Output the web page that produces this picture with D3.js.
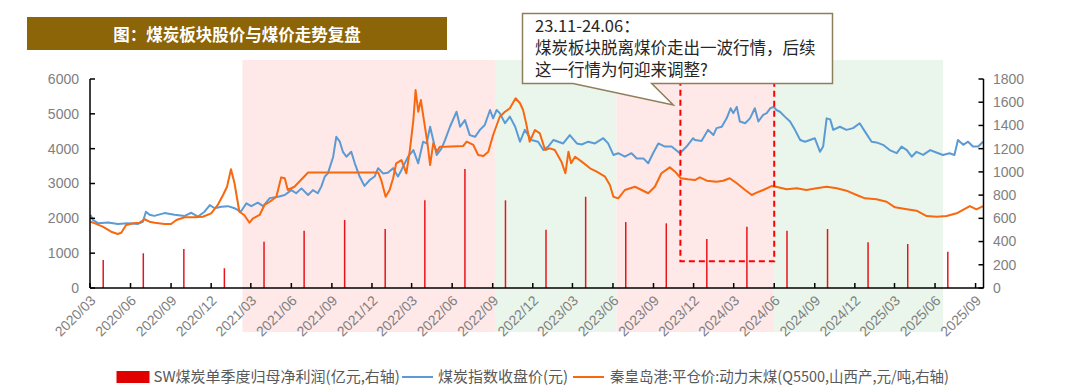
<!DOCTYPE html>
<html><head><meta charset="utf-8">
<script src="https://cdn.jsdelivr.net/npm/d3@7"></script>
<style>
body{margin:0;background:#fff;}
svg{display:block;font-family:"Liberation Sans",Arial,sans-serif;}
.cjk{font-family:"Noto Sans CJK SC","Noto Sans",sans-serif;}
</style>
</head><body><svg id="c" width="1080" height="390"></svg>
<script>
// ---------- DATA ----------
const titleText = "图：煤炭板块股价与煤价走势复盘";
const noteLines = ["23.11-24.06：", "煤炭板块脱离煤价走出一波行情，后续", "这一行情为何迎来调整?"];
const legendLabels = ["SW煤炭单季度归母净利润(亿元,右轴)", "煤炭指数收盘价(元)", "秦皇岛港:平仓价:动力末煤(Q5500,山西产,元/吨,右轴)"];

const xTickLabels = ["2020/03","2020/06","2020/09","2020/12","2021/03","2021/06","2021/09","2021/12","2022/03","2022/06","2022/09","2022/12","2023/03","2023/06","2023/09","2023/12","2024/03","2024/06","2024/09","2024/12","2025/03","2025/06","2025/09"];
const leftTicks = [0,1000,2000,3000,4000,5000,6000];
const rightTicks = [0,200,400,600,800,1000,1200,1400,1600,1800];

// shaded periods (pink = 上涨, green = 调整)
const bandStarts = ["2021-02-10","2022-09-06","2023-06-09","2024-06-01"];
const bandEnds   = ["2022-09-06","2023-06-09","2024-06-01","2025-06-19"];
const bandKinds  = ["up","down","up","down"];

// highlighted window 23.11-24.06
const focusStart = "2023-11-01", focusEnd = "2024-06-01", focusLow = 230;

// SW煤炭单季度归母净利润 (亿元, 右轴)
const profitDates = ["2020-03-31","2020-06-30","2020-09-30","2020-12-31","2021-03-31","2021-06-30","2021-09-30","2021-12-31","2022-03-31","2022-06-30","2022-09-30","2022-12-31","2023-03-31","2023-06-30","2023-09-30","2023-12-31","2024-03-31","2024-06-30","2024-09-30","2024-12-31","2025-03-31","2025-06-30"];
const profitValues = [241,299,336,170,399,494,586,508,755,1025,755,502,786,568,557,422,528,494,508,394,379,313];

// 煤炭指数收盘价 (元, 左轴)
const indexDates = ["2020-03-02","2020-03-08","2020-03-19","2020-04-11","2020-05-03","2020-05-26","2020-06-18","2020-06-29","2020-07-06","2020-07-14","2020-07-25","2020-08-17","2020-09-09","2020-10-02","2020-10-17","2020-11-01","2020-11-16","2020-11-28","2020-12-09","2020-12-24",
"2021-01-08","2021-01-23","2021-02-06","2021-02-19","2021-03-02","2021-03-17","2021-03-29","2021-04-13","2021-05-02","2021-05-17","2021-06-01","2021-06-12","2021-06-24","2021-07-09","2021-07-20","2021-07-31","2021-08-08","2021-08-16","2021-08-23","2021-09-04","2021-09-11","2021-09-19","2021-09-26","2021-10-04","2021-10-15","2021-10-23","2021-11-03","2021-11-14","2021-11-26","2021-12-07","2021-12-15","2021-12-26",
"2022-01-06","2022-01-18","2022-01-29","2022-02-06","2022-02-21","2022-03-05","2022-03-16","2022-03-27","2022-04-04","2022-04-12","2022-04-19","2022-04-27","2022-05-08","2022-05-16","2022-05-27","2022-06-11","2022-06-19","2022-06-30","2022-07-11","2022-07-23","2022-08-03","2022-08-14","2022-08-26","2022-09-02","2022-09-10","2022-09-17","2022-09-29","2022-10-10","2022-10-22","2022-11-02","2022-11-13","2022-11-28","2022-12-13","2022-12-25",
"2023-01-05","2023-01-17","2023-01-28","2023-02-08","2023-02-23","2023-03-11","2023-03-22","2023-04-06","2023-04-21","2023-05-10","2023-05-21","2023-06-02","2023-06-13","2023-06-28","2023-07-13","2023-07-25","2023-08-09","2023-08-20","2023-08-31","2023-09-12","2023-09-27","2023-10-12","2023-10-31","2023-11-15","2023-11-30","2023-12-04","2023-12-19",
"2024-01-03","2024-01-15","2024-01-22","2024-02-03","2024-02-14","2024-02-23","2024-02-29","2024-03-08","2024-03-15","2024-03-27","2024-04-07","2024-04-18","2024-04-26","2024-05-07","2024-05-15","2024-05-23","2024-05-31","2024-06-06","2024-06-14","2024-06-25","2024-07-07","2024-07-18","2024-07-30","2024-08-10","2024-08-21","2024-09-01","2024-09-13","2024-09-20","2024-09-28","2024-10-06","2024-10-13","2024-10-28","2024-11-12","2024-11-27","2024-12-12","2024-12-24",
"2025-01-08","2025-01-19","2025-02-03","2025-02-18","2025-03-06","2025-03-17","2025-03-29","2025-04-09","2025-04-20","2025-05-05","2025-05-21","2025-06-04","2025-06-19","2025-07-04","2025-07-15","2025-07-23","2025-08-04","2025-08-15","2025-08-26","2025-09-07","2025-09-18"];
const indexValues = [2100,1950,1860,1880,1840,1860,1840,1900,2190,2100,2070,2150,2100,2070,2160,2050,2190,2380,2290,2330,
2350,2290,2190,2430,2350,2450,2350,2580,2620,2670,2810,2720,2860,2670,2810,2720,2910,3200,3290,3770,4340,4200,3910,3770,3910,3580,3200,2930,3100,3200,3440,3290,
3310,3440,3200,3390,3770,3960,3580,4200,4150,4630,4250,3820,4010,4250,4630,5060,4630,4820,4390,4340,4540,4680,5110,4870,5110,5020,4730,4920,4630,4200,4540,4250,4200,3960,
4060,4250,4200,4150,4390,4150,4120,4200,4150,4300,4150,3820,3870,3770,3870,3720,3720,3580,3870,4150,4060,4060,3870,4060,4300,4250,4220,
4540,4390,4590,4630,4870,5160,5020,5200,4780,4730,4870,5160,4780,4970,5020,5160,5200,5110,5060,4920,4780,4540,4250,4200,4250,4300,3910,4060,4870,4840,4540,4630,4540,4590,4730,4490,
4200,4180,4110,3960,3870,4060,3960,3770,3910,3820,3960,3890,3820,3870,3820,4250,4110,4200,4060,4060,4200];

// 秦皇岛港:平仓价:动力末煤 (元/吨, 右轴)
const priceDates = ["2020-03-02","2020-03-12","2020-03-30","2020-04-18","2020-05-03","2020-05-11","2020-05-22","2020-06-07","2020-06-21","2020-07-03","2020-07-14","2020-07-26","2020-08-17","2020-09-01","2020-09-13","2020-10-02","2020-10-24","2020-11-12","2020-12-01","2020-12-16","2020-12-28",
"2021-01-06","2021-01-15","2021-01-23","2021-02-03","2021-02-14","2021-02-26","2021-03-06","2021-03-21","2021-04-01","2021-04-13","2021-04-28","2021-05-09","2021-05-17","2021-05-24","2021-06-08","2021-07-09","2021-12-15","2021-12-22",
"2022-01-01","2022-01-10","2022-01-18","2022-01-25","2022-02-06","2022-02-17","2022-02-25","2022-03-05","2022-03-10","2022-03-16","2022-03-22","2022-03-30","2022-04-06","2022-04-12","2022-04-19","2022-04-27","2022-05-04","2022-05-16","2022-06-26","2022-07-04","2022-07-19","2022-07-30","2022-08-11","2022-08-22","2022-09-02","2022-09-17","2022-09-29","2022-10-10","2022-10-23","2022-11-02","2022-11-09","2022-11-16","2022-11-24","2022-12-06","2022-12-17","2022-12-29",
"2023-01-09","2023-01-20","2023-02-04","2023-02-13","2023-02-20","2023-02-26","2023-03-07","2023-03-22","2023-04-10","2023-04-25","2023-05-14","2023-05-25","2023-06-02","2023-06-13","2023-06-28","2023-07-21","2023-08-05","2023-08-20","2023-09-04","2023-09-19","2023-10-08","2023-10-20","2023-11-02","2023-11-18","2023-12-04","2023-12-15","2023-12-31",
"2024-01-22","2024-02-06","2024-02-21","2024-03-08","2024-03-27","2024-04-11","2024-04-22","2024-05-07","2024-05-26","2024-06-10","2024-06-29","2024-07-22","2024-08-13","2024-09-05","2024-09-28","2024-10-21","2024-11-12","2024-12-05","2024-12-24",
"2025-01-19","2025-02-11","2025-03-02","2025-03-29","2025-04-20","2025-05-13","2025-06-05","2025-06-27","2025-07-20","2025-08-19","2025-09-03","2025-09-18"];
const priceValues = [571,557,528,485,465,476,543,557,562,592,571,562,551,551,586,609,609,614,643,715,801,
872,1022,902,657,629,562,600,629,715,743,786,953,945,844,872,995,995,930,
786,844,945,1074,1102,988,1188,1447,1705,1518,1619,1418,1246,1059,1246,1174,1217,1217,1223,1260,1232,1145,1137,1174,1318,1475,1518,1548,1634,1591,1533,1418,1260,1361,1332,1188,
1203,1188,1088,988,1174,1074,1131,1088,1031,1002,959,887,786,772,844,872,844,816,872,988,1039,1002,945,936,930,953,924,
915,924,945,902,844,801,821,844,878,867,850,859,844,859,872,859,838,801,772,
764,743,695,678,666,620,614,620,643,706,678,706];

// ---------- CHART ----------
const svg = d3.select("#c");
const parse = d3.timeParse("%Y-%m-%d");
const parseTick = d3.timeParse("%Y/%m");
const X0 = 90, X1 = 983.5, Y0 = 288, Y1 = 79;

const x = d3.scaleTime().domain([parse("2020-03-01"), parse("2025-09-19")]).range([X0, X1]);
const yL = d3.scaleLinear().domain([0, 6000]).range([Y0, Y1]);
const yR = d3.scaleLinear().domain([0, 1800]).range([Y0, Y1]);

// bands
const bandColor = {up:"#FFE8E8", down:"#EAF6EC"};
svg.append("g").selectAll("rect").data(bandStarts).join("rect")
  .attr("x", (d)=>x(parse(d)))
  .attr("width", (d,i)=>x(parse(bandEnds[i])) - x(parse(d)))
  .attr("y", 60).attr("height", 272)
  .attr("fill", (d,i)=>bandColor[bandKinds[i]]);

// title
svg.append("rect").attr("x",27).attr("y",17).attr("width",420).attr("height",33).attr("fill","#8B6508");
svg.append("text").attr("class","cjk").attr("x",237).attr("y",34).attr("text-anchor","middle")
  .attr("dominant-baseline","central").attr("fill","#fff").attr("font-size",16.5).attr("font-weight","bold").text(titleText);

// bars
svg.append("g").selectAll("line").data(profitDates).join("line")
  .attr("x1", d=>x(parse(d))).attr("x2", d=>x(parse(d)))
  .attr("y1", yR(0)).attr("y2", (d,i)=>yR(profitValues[i]))
  .attr("stroke","#E8141B").attr("stroke-width",1.5);

// lines
const idx = indexDates.map((d,i)=>({d:parse(d), v:indexValues[i]}));
const pr = priceDates.map((d,i)=>({d:parse(d), v:priceValues[i]}));
svg.append("path").datum(idx).attr("fill","none").attr("stroke","#5B9BD5").attr("stroke-width",2).attr("stroke-linejoin","round")
  .attr("d", d3.line().x(p=>x(p.d)).y(p=>yL(p.v)));
svg.append("path").datum(pr).attr("fill","none").attr("stroke","#F7680F").attr("stroke-width",2).attr("stroke-linejoin","round")
  .attr("d", d3.line().x(p=>x(p.d)).y(p=>yR(p.v)));

// axes
const ax = svg.append("g").attr("stroke","#000").attr("stroke-width",1.5);
ax.append("line").attr("x1",X0).attr("x2",X0).attr("y1",Y1).attr("y2",Y0);
ax.append("line").attr("x1",X1).attr("x2",X1).attr("y1",Y1).attr("y2",Y0);
ax.append("line").attr("x1",X0).attr("x2",X1).attr("y1",Y0).attr("y2",Y0);
ax.selectAll(".lt").data(leftTicks).join("line").attr("x1",X0).attr("x2",X0+5).attr("y1",d=>yL(d)).attr("y2",d=>yL(d));
ax.selectAll(".rt").data(rightTicks).join("line").attr("class","rt").attr("x1",X1-5).attr("x2",X1).attr("y1",d=>yR(d)).attr("y2",d=>yR(d));
ax.selectAll(".xt").data(xTickLabels).join("line").attr("class","xt").attr("x1",d=>x(parseTick(d))).attr("x2",d=>x(parseTick(d))).attr("y1",Y0).attr("y2",Y0-5);

const lab = svg.append("g").attr("fill","#808080").attr("font-size",14);
lab.selectAll(".ll").data(leftTicks).join("text").attr("x",79).attr("y",d=>yL(d)).attr("dy","0.35em").attr("text-anchor","end").text(d=>d);
lab.selectAll(".rl").data(rightTicks).join("text").attr("class","rl").attr("x",993).attr("y",d=>yR(d)).attr("dy","0.35em").text(d=>d);
lab.selectAll(".xl").data(xTickLabels).join("text").attr("class","xl")
  .attr("transform", d=>`translate(${x(parseTick(d))+3},298) rotate(-45)`)
  .attr("text-anchor","end").attr("dy","0.35em").text(d=>d);

// focus dashed rectangle
svg.append("rect").attr("x", x(parse(focusStart))).attr("y", 64.5)
  .attr("width", x(parse(focusEnd)) - x(parse(focusStart))).attr("height", yR(focusLow) - 64.5)
  .attr("fill","none").attr("stroke","#FF0000").attr("stroke-width",2).attr("stroke-dasharray","6,4");

// callout
svg.append("path").attr("d","M522.5,13.5 H832.5 V83.5 H651.7 L673.3,105 L573,83.5 H522.5 Z")
  .attr("fill","#fff").attr("stroke","#8E7F5C").attr("stroke-width",1.5);
svg.append("g").attr("class","cjk").attr("fill","#262626").attr("font-size",16.5)
  .selectAll("text").data(noteLines).join("text").attr("x",535).attr("y",(d,i)=>32+i*22).text(d=>d);

// legend
const lg = svg.append("g").attr("class","cjk").attr("font-size",15).attr("fill","#595959");
lg.append("rect").attr("x",116.5).attr("y",371).attr("width",33).attr("height",12).attr("fill","#E00000");
lg.append("text").attr("x",153.5).attr("y",377).attr("dy","0.35em").text(legendLabels[0]);
lg.append("line").attr("x1",402).attr("x2",433).attr("y1",377).attr("y2",377).attr("stroke","#5B9BD5").attr("stroke-width",2);
lg.append("text").attr("x",438).attr("y",377).attr("dy","0.35em").text(legendLabels[1]);
lg.append("line").attr("x1",573).attr("x2",604).attr("y1",377).attr("y2",377).attr("stroke","#F7680F").attr("stroke-width",2);
lg.append("text").attr("x",610).attr("y",377).attr("dy","0.35em")
  .attr("textLength",339).attr("lengthAdjust","spacingAndGlyphs").text(legendLabels[2]);
</script></body></html>
